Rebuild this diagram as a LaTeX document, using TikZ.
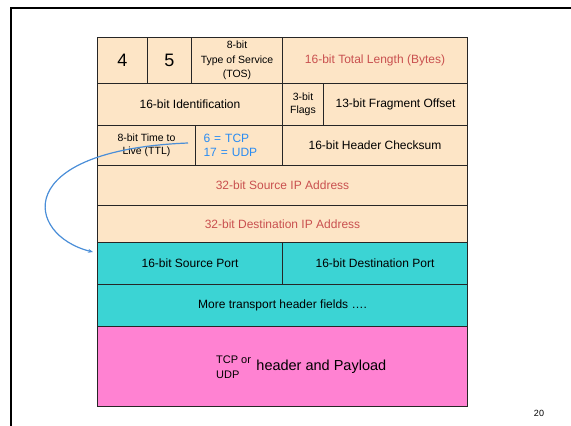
\documentclass[tikz,border=0pt]{standalone}
\usepackage{fontspec}
\setmainfont{Liberation Sans}
\usetikzlibrary{arrows.meta, positioning}

\definecolor{ipfill}{HTML}{FDE5C6}
\definecolor{tpfill}{HTML}{3BD4D4}
\definecolor{payfill}{HTML}{FF82D2}
\definecolor{addrred}{HTML}{C9504F}
\definecolor{protoblue}{HTML}{2A8CF2}
\definecolor{arrowblue}{HTML}{4A8ED8}

\begin{document}
\begin{tikzpicture}[x=1pt, y=-1pt,
    cell/.style={draw=black!85, line width=1pt, anchor=north west, inner sep=0pt,
                 align=center, font=\fontsize{12}{14}\selectfont},
    ipcell/.style={cell, fill=ipfill},
    tpcell/.style={cell, fill=tpfill},
    smalltext/.style={font=\fontsize{10.5}{13.5}\selectfont}]
    \useasboundingbox (0,0) rectangle (571,426);

    % slide frame
    \draw[line width=2pt] (11,426) -- (11,8) -- (571,8);

    % IP header
    \node[ipcell, minimum width=50, minimum height=46] (ver) at (97,37) {\fontsize{18}{20}\selectfont 4};
    \node[ipcell, minimum width=44, minimum height=46] (ihl) at (147,37) {\fontsize{18}{20}\selectfont 5};
    \node[ipcell, font=\fontsize{10.5}{14.5}\selectfont, minimum width=91, minimum height=46] (tos) at (191,37) {8-bit\\Type of Service\\(TOS)};
    \node[ipcell, text=addrred, minimum width=185, minimum height=46] (totlen) at (282,37) {16-bit Total Length (Bytes)};

    \node[ipcell, minimum width=185, minimum height=42] (ident) at (97,83) {16-bit Identification};
    \node[ipcell, smalltext, minimum width=41, minimum height=42] (flags) at (282,83) {3-bit\\Flags};
    \node[ipcell, minimum width=144, minimum height=42] (fragoff) at (323,83) {13-bit Fragment Offset};

    \node[ipcell, smalltext, minimum width=98, minimum height=40] (ttl) at (97,125) {8-bit Time to\\Live (TTL)};
    \node[ipcell, text=protoblue, text width=71, align=left, minimum width=87, minimum height=40] (proto) at (195,125) {6 = TCP\\17 = UDP};
    \node[ipcell, minimum width=185, minimum height=40] (hchk) at (282,125) {16-bit Header Checksum};

    \node[ipcell, text=addrred, minimum width=370, minimum height=40] (srcip) at (97,165) {32-bit Source IP Address};
    \node[ipcell, text=addrred, minimum width=370, minimum height=37] (dstip) at (97,205) {32-bit Destination IP Address};

    % transport header
    \node[tpcell, minimum width=185, minimum height=42] (srcport) at (97,242) {16-bit Source Port};
    \node[tpcell, minimum width=185, minimum height=42] (dstport) at (282,242) {16-bit Destination Port};
    \node[tpcell, minimum width=370, minimum height=42] (more) at (97,284) {More transport header fields \dots.};

    % payload
    \node[cell, fill=payfill, minimum width=370, minimum height=80] (payload) at (97,326) {};
    \node[font=\fontsize{11}{15}\selectfont, align=left, anchor=west, inner sep=0pt] (tcpudp) at (216,367) {TCP or\\UDP};
    \node[font=\fontsize{14.5}{16}\selectfont, inner sep=0pt, right=5pt of tcpudp] (paytext) {header and Payload};

    % protocol field points to transport header
    \coordinate (tail) at (188,143);
    \draw[arrowblue, line width=1.2pt, -{Stealth[length=5pt, width=4pt]}]
        (tail) .. controls (10,150) and (25,235) .. ([xshift=-4pt, yshift=-10pt]srcport.north west);

    \node[font=\fontsize{9}{10}\selectfont] (pagenum) at (539,413) {20};
\end{tikzpicture}
\end{document}
